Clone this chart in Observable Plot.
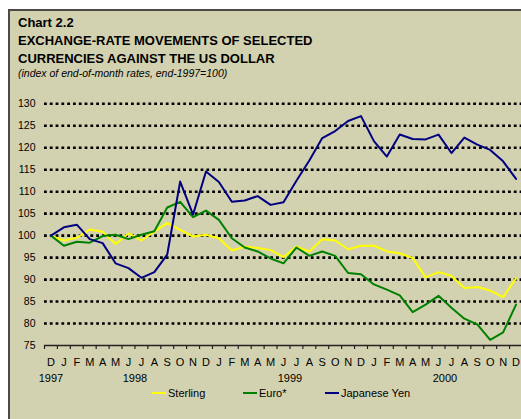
<!DOCTYPE html>
<html>
<head>
<meta charset="utf-8">
<script src="https://cdn.jsdelivr.net/npm/d3@7"></script>
<script src="https://cdn.jsdelivr.net/npm/@observablehq/plot@0.6"></script>
<style>
  html, body { margin: 0; padding: 0; background: #ffffff; width: 521px; height: 419px; overflow: hidden; }
  body { position: relative; font-family: Arial, "Liberation Sans", sans-serif; }
  #panel { position: absolute; left: 8px; top: 9px; width: 520px; height: 420px; background: #d3d2b0;
           border-top: 2px solid #4a4a4a; border-left: 2px solid #4a4a4a; }
  .t { position: absolute; left: 18px; white-space: nowrap; color: #000; }
  .h { font-size: 13px; font-weight: bold; line-height: 13px; }
  .sub { font-size: 10.5px; font-style: italic; line-height: 10.5px; }
  #chart { position: absolute; left: 0; top: 0; }
  .lg { position: absolute; font-size: 11px; line-height: 11px; white-space: nowrap; color: #000; }
  .sw { position: absolute; height: 2px; width: 14px; }
</style>
</head>
<body>
<div id="panel"></div>
<div class="t h" style="top:16px">Chart 2.2</div>
<div class="t h" style="top:34px">EXCHANGE-RATE MOVEMENTS OF SELECTED</div>
<div class="t h" style="top:52px">CURRENCIES AGAINST THE US DOLLAR</div>
<div class="t sub" style="top:68px">(index of end-of-month rates, end-1997=100)</div>
<div id="chart"></div>
<div id="legend"></div>
<script>
// Months: Dec 1997 ... Dec 2000 (37 end-of-month observations)
const monthLabels = ["D","J","F","M","A","M","J","J","A","S","O","N","D",
                     "J","F","M","A","M","J","J","A","S","O","N","D",
                     "J","F","M","A","M","J","J","A","S","O","N","D"];
const yearLabels = ["1997","1998","1999","2000"];
const yearCenters = [0, 6.5, 18.5, 30.5];
const yTicks = [75,80,85,90,95,100,105,110,115,120,125,130];

const seriesNames = ["Sterling","Euro*","Japanese Yen"];
const seriesColors = ["#ffff00","#008000","#000080"];

const sterling = [100,98.9,99.5,101.4,100.9,98.1,100.5,98.9,100.9,102.9,101.3,99.8,100.2,
                  99.4,96.6,97.5,97.2,96.7,95.1,97.5,96.4,99.2,98.9,96.9,97.7,
                  97.7,96.4,96.0,94.9,90.5,91.7,90.8,88.1,88.3,87.5,86.0,90.3];
const euro = [100,97.7,98.6,98.4,99.9,100.2,99.2,100.2,101.0,106.4,107.7,104.2,105.7,
              103.6,99.4,97.3,96.4,94.8,93.7,97.3,95.4,96.4,95.4,91.5,91.2,
              88.9,87.7,86.4,82.6,84.3,86.3,83.6,81.1,79.8,76.3,78.0,84.3];
const yen = [100,101.9,102.5,99.2,98.3,93.7,92.6,90.4,91.7,95.7,112.3,104.8,114.6,
             112.2,107.7,108.0,109.0,107.0,107.6,112.5,117.1,122.2,123.8,126.1,127.2,
             121.5,118.0,123.0,122.0,121.9,123.0,118.8,122.3,120.7,119.5,116.9,112.9];

const seriesValues = [sterling, euro, yen];
const data = seriesValues.flatMap((vals, s) => vals.map((v, i) => ({series: seriesNames[s], i, v})));
const idx = monthLabels.map((_, i) => i);
const bounds = d3.range(0, 38).map(i => i - 0.5);
const yearMap = new Map(yearCenters.map((c, k) => [c, yearLabels[k]]));

const chart = Plot.plot({
  width: 521,
  height: 419,
  marginLeft: 44,
  marginRight: 0,
  marginTop: 103.3,
  marginBottom: 74,
  style: {background: "transparent", fontFamily: "Arial, 'Liberation Sans', sans-serif", color: "#000", overflow: "visible"},
  x: {domain: [-0.5, 36.5], range: [44, 522]},
  y: {domain: [75, 130]},
  color: {domain: seriesNames, range: seriesColors},
  marks: [
    Plot.ruleY(yTicks.filter(d => d > 75), {stroke: "#000", strokeWidth: 2.6, strokeDasharray: "2.8,3", strokeOpacity: 1}),
    Plot.axisY(yTicks, {tickSize: 0, tickPadding: 9, fontSize: 10.5, label: null}),
    Plot.ruleY([75], {stroke: "#222", strokeWidth: 1.5}),
    Plot.axisX(bounds, {tickSize: 4, tickFormat: () => "", label: null, stroke: "#222", strokeWidth: 1.2}),
    Plot.axisX(idx, {tickSize: 0, tickPadding: 13, tickFormat: i => monthLabels[i], fontSize: 11, label: null}),
    Plot.axisX(yearCenters, {tickSize: 0, tickPadding: 29, tickFormat: c => yearMap.get(c), fontSize: 11, label: null}),
    Plot.line(data, {x: "i", y: "v", z: "series", stroke: "series", strokeWidth: 2})
  ]
});
document.getElementById("chart").appendChild(chart);

// Legend
const legendPos = [{line: 152, text: 168}, {line: 243, text: 259}, {line: 325, text: 341}];
const lg = document.getElementById("legend");
seriesNames.forEach((name, k) => {
  const sw = document.createElement("div");
  sw.className = "sw";
  sw.style.left = legendPos[k].line + "px";
  sw.style.top = "392px";
  sw.style.background = seriesColors[k];
  lg.appendChild(sw);
  const tx = document.createElement("div");
  tx.className = "lg";
  tx.style.left = legendPos[k].text + "px";
  tx.style.top = "388px";
  tx.textContent = name;
  lg.appendChild(tx);
});
</script>
</body>
</html>
